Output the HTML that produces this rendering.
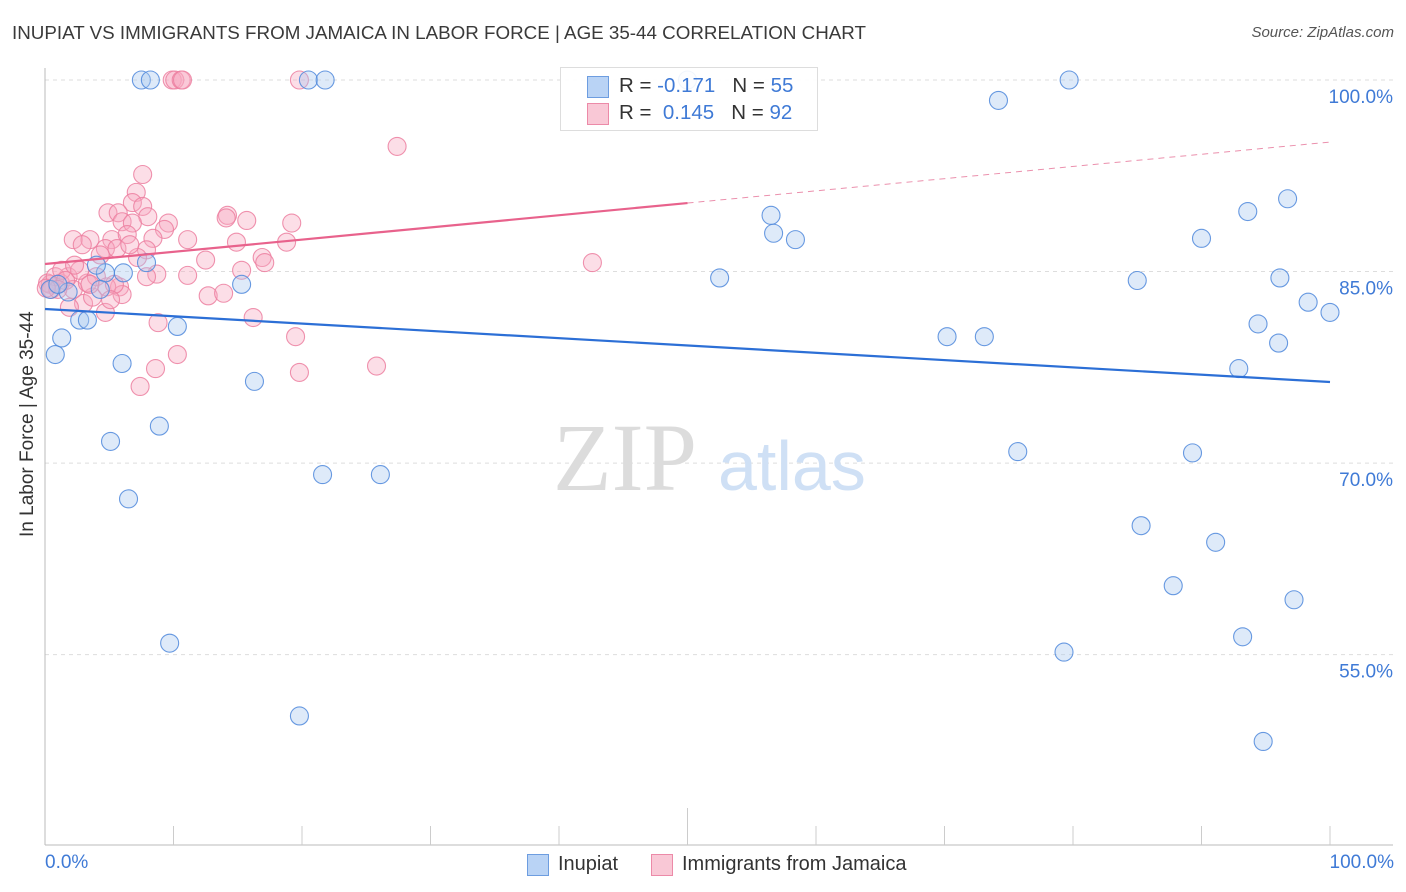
<!DOCTYPE html>
<html><head><meta charset="utf-8">
<style>
body{margin:0;background:#fff;font-family:"Liberation Sans",sans-serif;}
#wrap{position:relative;width:1406px;height:892px;overflow:hidden;}
.t{position:absolute;white-space:nowrap;}
</style></head>
<body>
<div id="wrap">
<div class="t" style="left:12px;top:22px;font-size:18.8px;color:#3a3a3a;">INUPIAT VS IMMIGRANTS FROM JAMAICA IN LABOR FORCE | AGE 35-44 CORRELATION CHART</div>
<div class="t" style="right:12px;top:24px;font-size:15px;color:#555;font-style:italic;">Source: ZipAtlas.com</div>
<svg id="chart" width="1406" height="892" style="position:absolute;left:0;top:0"></svg>
</div>
<script>
const blueX=[7.5,8.2,20.5,21.8,79.7,74.2,96.7,93.6,56.5,56.7,58.4,90,52.5,85,96.1,98.3,100,94.4,96,70.2,73.1,92.9,75.7,89.3,85.3,91.1,87.8,97.2,93.2,79.3,94.8,19.8,9.7,6.5,5.1,8.9,6,0.8,1.3,2.7,3.3,10.3,16.3,21.6,26.1,15.3,7.9,6.1,4.7,4,1.8,4.3,0.4,1,50];
const blueY=[100,100,100,100,100,98.4,90.7,89.7,89.4,88,87.5,87.6,84.5,84.3,84.5,82.6,81.8,80.9,79.4,79.9,79.9,77.4,70.9,70.8,65.1,63.8,60.4,59.3,56.4,55.2,48.2,50.2,55.9,67.2,71.7,72.9,77.8,78.5,79.8,81.2,81.2,80.7,76.4,69.1,69.1,84,85.7,84.9,84.9,85.5,83.4,83.6,83.6,84,100];
const pinkX=[7.6,7.1,6.8,7.6,4.9,5.7,6,8,6.8,9.6,9.3,14.2,15.7,19.2,2.2,3.5,2.9,5.2,6.4,8.4,11.1,14.9,18.8,4.7,5.6,12.5,16.9,17.1,7.9,7.2,15.3,11.1,8.7,7.9,5.8,6,4.7,12.7,13.9,16.2,8.8,19.5,10.3,8.6,7.4,19.8,3,1.9,3.7,1.2,0.4,1.8,2.2,3.3,4,4.8,19.8,9.9,10.1,10.6,10.7,27.4,42.6,25.8,14.1,0.2,0.5,0.8,1.3,1.6,1,2.7,3.5,5.4,2.3,4.3,6.6,0.1,5.1];
const pinkY=[92.6,91.2,90.4,90.1,89.6,89.6,88.9,89.3,88.8,88.8,88.3,89.4,89,88.8,87.5,87.5,87.1,87.5,87.9,87.6,87.5,87.3,87.3,86.8,86.8,85.9,86.1,85.7,86.7,86.1,85.1,84.7,84.8,84.6,83.8,83.2,81.8,83.1,83.3,81.4,81,79.9,78.5,77.4,76,77.1,82.5,82.2,83,84.1,84,84.6,83.6,84.1,84.6,83.8,100,100,100,100,100,94.8,85.7,77.6,89.2,84.1,83.6,84.6,85.1,84.3,83.6,85.1,84,84,85.5,86.3,87.1,83.7,82.8];
const blueTrend=[82.07,76.35];
const pinkTrend=[85.59,95.14];
const yTicks=[100,85,70,55];
const yTickLabels=["100.0%","85.0%","70.0%","55.0%"];

const NS="http://www.w3.org/2000/svg";
const svg=document.getElementById('chart');
const xs=v=>45+v*12.85;
const ys=v=>80+(100-v)*12.77;
function mk(tag,attrs){const e=document.createElementNS(NS,tag);for(const k in attrs)e.setAttribute(k,attrs[k]);svg.appendChild(e);return e;}

yTicks.forEach((t,i)=>{
  const g=mk('line',{x1:45,x2:1393,y1:ys(t),y2:ys(t),stroke:'#ddd','stroke-dasharray':'4,4'});
  
  
  const l=mk('text',{x:1393,y:ys(t)+23,'text-anchor':'end','font-size':19,fill:'#3f7ad6','font-family':'Liberation Sans, sans-serif'});
  l.textContent=yTickLabels[i];
  
  
});
const w1=mk('text',{x:553,y:490,'font-size':96,fill:'#dcdcdc','font-family':'Liberation Serif, serif'});w1.textContent='ZIP';


const w2=mk('text',{x:718,y:490,'font-size':70,fill:'#cfe0f5','font-family':'Liberation Sans, sans-serif'});w2.textContent='atlas';



let a=mk('line',{x1:45,x2:45,y1:68,y2:845,stroke:'#bbb'});


a=mk('line',{x1:45,x2:1393,y1:845,y2:845,stroke:'#bbb'});


for(let i=1;i<=10;i++){
  const tk=mk('line',{x1:xs(i*10),x2:xs(i*10),y1:(i==5?808:826),y2:845,stroke:'#ccc'});
  
  
}
function dots(X,Y,fill,stroke,name){
  X.forEach((x,i)=>{
    const c=mk('circle',{cx:xs(x),cy:ys(Y[i]),r:9,fill:fill,stroke:stroke,'stroke-width':1.1,'fill-opacity':0.38,'stroke-opacity':0.85});
    
    
  });
}
dots(pinkX,pinkY,'#f7a8c0','#ec7fa0','pink-point');
dots(blueX,blueY,'#a9c8f0','#4f88dc','blue-point');
let tl=mk('line',{x1:xs(0),y1:ys(blueTrend[0]),x2:xs(100),y2:ys(blueTrend[1]),stroke:'#2c6fd6','stroke-width':2.2});


const pm=pinkTrend[0]+(pinkTrend[1]-pinkTrend[0])*0.5;
tl=mk('line',{x1:xs(0),y1:ys(pinkTrend[0]),x2:xs(50),y2:ys(pm),stroke:'#e8628c','stroke-width':2.2});


tl=mk('line',{x1:xs(50),y1:ys(pm),x2:xs(100),y2:ys(pinkTrend[1]),stroke:'#eb90ad','stroke-width':1,'stroke-dasharray':'6,5'});


</script>
<div class="t" style="left:-52px;top:446px;transform:rotate(-90deg);font-size:19px;color:#333;width:160px;text-align:center;">In Labor Force | Age 35-44</div>
<div class="t" style="left:45px;top:852px;font-size:19px;color:#3f7ad6;">0.0%</div>
<div class="t" style="right:12px;top:852px;font-size:19px;color:#3f7ad6;">100.0%</div>
<div style="position:absolute;left:560px;top:67px;width:256px;height:62px;border:1px solid #ddd;background:rgba(255,255,255,0.9);font-size:20.5px;">
 <div style="position:absolute;left:26px;top:8px;width:20px;height:20px;background:#b9d3f5;border:1px solid #6d9de0;"></div>
 <div class="t" style="left:58px;top:6px;color:#333;">R = <span style="color:#3f7ad6">-0.171</span>&nbsp;&nbsp;&nbsp;N = <span style="color:#3f7ad6">55</span></div>
 <div style="position:absolute;left:26px;top:35px;width:20px;height:20px;background:#f9c8d6;border:1px solid #ec8aa8;"></div>
 <div class="t" style="left:58px;top:33px;color:#333;">R = &nbsp;<span style="color:#3f7ad6">0.145</span>&nbsp;&nbsp;&nbsp;N = <span style="color:#3f7ad6">92</span></div>
</div>
<div style="position:absolute;left:527px;top:853px;font-size:20px;color:#333;">
 <div style="position:absolute;left:0;top:1px;width:20px;height:20px;background:#b9d3f5;border:1px solid #6d9de0;"></div>
 <div class="t" style="left:31px;top:0;">Inupiat</div></div>
<div style="position:absolute;left:651px;top:853px;font-size:20px;color:#333;">
 <div style="position:absolute;left:0;top:1px;width:20px;height:20px;background:#f9c8d6;border:1px solid #ec8aa8;"></div>
 <div class="t" style="left:31px;top:0;">Immigrants from Jamaica</div></div>
</body></html>
